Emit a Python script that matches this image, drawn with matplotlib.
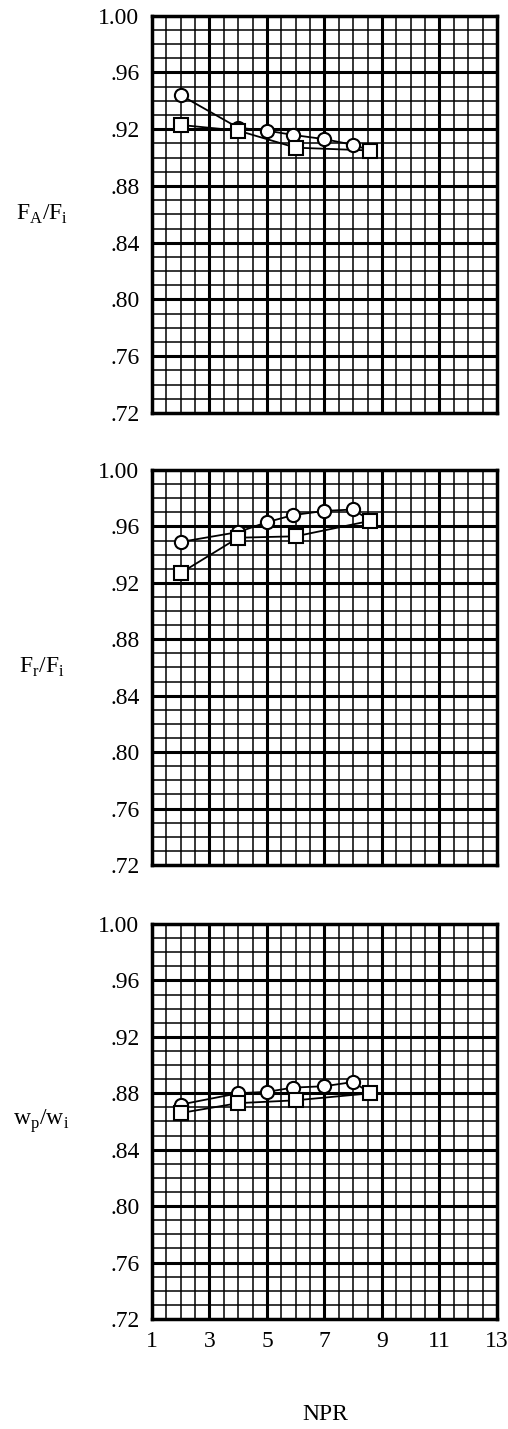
import matplotlib.pyplot as plt
from matplotlib.ticker import FixedLocator
import numpy as np

# NPR values for the two configurations
npr_circ = [2.0, 4.0, 5.0, 5.9, 7.0, 8.0]
npr_sq = [2.0, 4.0, 6.0, 8.6]

# F_A/F_i
fa_circ = [0.944, 0.921, 0.919, 0.916, 0.913, 0.909]
fa_sq = [0.923, 0.919, 0.907, 0.905]
# F_r/F_i
fr_circ = [0.949, 0.956, 0.963, 0.968, 0.971, 0.972]
fr_sq = [0.927, 0.952, 0.953, 0.964]
# w_p/w_i
wp_circ = [0.872, 0.880, 0.881, 0.884, 0.885, 0.888]
wp_sq = [0.866, 0.873, 0.875, 0.880]

ylabels = ['F$_\\mathregular{A}$/F$_\\mathregular{i}$',
           'F$_\\mathregular{r}$/F$_\\mathregular{i}$',
           'w$_\\mathregular{p}$/w$_\\mathregular{i}$']
yticks = [0.72, 0.76, 0.80, 0.84, 0.88, 0.92, 0.96, 1.00]
ytick_labels = ['.72', '.76', '.80', '.84', '.88', '.92', '.96', '1.00']
xticks = [1, 3, 5, 7, 9, 11, 13]

plt.rcParams['font.family'] = ['Liberation Serif', 'DejaVu Serif']
plt.rcParams['mathtext.fontset'] = 'custom'
plt.rcParams['mathtext.rm'] = 'Liberation Serif'

fig = plt.figure(figsize=(5.08, 14.29), dpi=100)
boxes = [(0.711, 0.989), (0.3947, 0.6711), (0.077, 0.3534)]
series = [(fa_circ, fa_sq), (fr_circ, fr_sq), (wp_circ, wp_sq)]

for i, ((b, t), (yc, ys)) in enumerate(zip(boxes, series)):
    ax = fig.add_axes([0.2992, b, 0.6791, t - b])
    ax.set_xlim(1, 13)
    ax.set_ylim(0.72, 1.00)

    # graph-paper grid
    for xv in np.arange(1.5, 13, 0.5):
        lw = 2.2 if (xv - 1) % 2 == 0 else 1.1
        ax.axvline(xv, color='black', lw=lw, zorder=1)
    for k in range(1, 28):
        yv = 0.72 + k * 0.01
        lw = 2.2 if k % 4 == 0 else 1.1
        ax.axhline(yv, color='black', lw=lw, zorder=1)

    for s in ax.spines.values():
        s.set_linewidth(2.5)

    # circle line ends on last square point
    ax.plot(npr_circ + [npr_sq[-1]], yc + [ys[-1]], color='black', lw=1.3, zorder=3)
    ax.plot(npr_sq, ys, color='black', lw=1.3, zorder=3)
    ax.plot(npr_circ, yc, 'o', ms=9.5, mfc='white', mec='black', mew=1.5, zorder=4)
    ax.plot(npr_sq, ys, 's', ms=9.5, mfc='white', mec='black', mew=1.5, zorder=4)

    ax.yaxis.set_major_locator(FixedLocator(yticks))
    ax.set_yticklabels(ytick_labels)
    ax.xaxis.set_major_locator(FixedLocator(xticks))
    ax.tick_params(length=0, labelsize=17, pad=9)
    if i < 2:
        ax.set_xticklabels([])
    ax.text(-0.32, 0.5, ylabels[i], transform=ax.transAxes, fontsize=17,
            ha='center', va='center')

fig.text(0.64, 0.01, 'NPR', ha='center', va='center', fontsize=17)
fig.savefig('out.png', dpi=100)
